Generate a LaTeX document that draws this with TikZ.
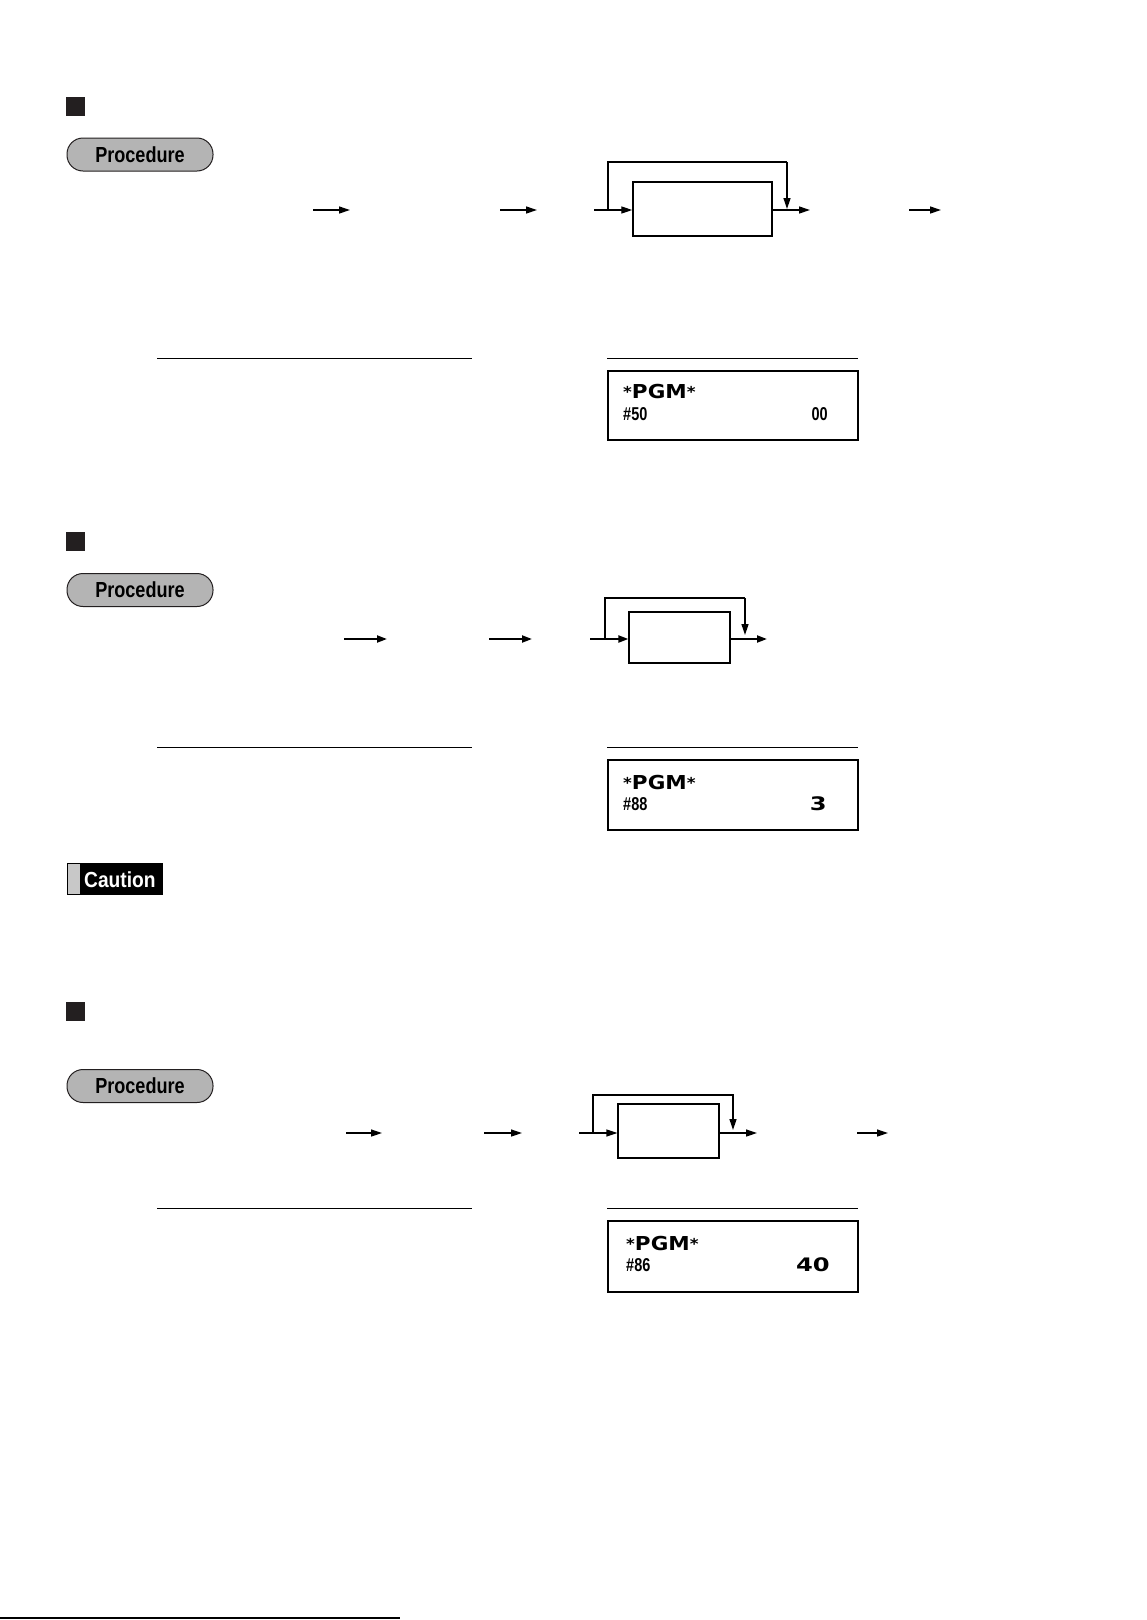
\documentclass[tikz,border=0pt]{standalone}
\usepackage{fontspec}
\usetikzlibrary{arrows.meta}
\newfontfamily\procfont[FakeStretch=0.83,UprightFont={* Bold}]{Liberation Sans}
\newfontfamily\cautfont[FakeStretch=0.88,UprightFont={* Bold}]{Liberation Sans}
\newfontfamily\condfont[FakeStretch=0.78,UprightFont={* Bold}]{Liberation Sans}
\newfontfamily\dispfont[FakeStretch=1.12,UprightFont={* Bold}]{DejaVu Sans}
\newfontfamily\digfont[FakeStretch=1.3,UprightFont={* Bold}]{DejaVu Sans}
\newcommand{\smallast}{\raisebox{0.8pt}{\fontsize{15}{15}\selectfont *}}
\definecolor{ink}{HTML}{231F20}
\definecolor{pillgray}{HTML}{B4B4B4}
\definecolor{bargray}{HTML}{C8C8C8}
\begin{document}
\begin{tikzpicture}[x=1pt,y=-1pt,
  arr/.style={-{Triangle[length=11pt,width=7pt]},line width=1.3pt},
  arrthick/.style={-{Triangle[length=10pt,width=7pt]},line width=2pt},
  loopline/.style={line width=1.3pt},
  keybox/.style={draw,line width=1.4pt,inner sep=0pt},
  sqbox/.style={fill=ink,minimum size=19pt,inner sep=0pt},
  pill/.style={draw=ink,fill=pillgray,line width=1pt,rounded corners=16pt,minimum width=146pt,minimum height=33pt,inner sep=0pt,font=\procfont\fontsize{21.8}{22}\selectfont},
  sepline/.style={line width=1pt},
  dispbox/.style={draw,line width=1.3pt,minimum width=250pt,minimum height=69pt,inner sep=0pt},
  pgm/.style={anchor=base west,inner sep=0pt,font=\dispfont\fontsize{19.2}{19}\selectfont},
  cond/.style={inner sep=0pt,font=\condfont\fontsize{18.6}{19}\selectfont},
  dig/.style={anchor=base east,inner sep=0pt,font=\digfont\fontsize{18.6}{19}\selectfont}]
\useasboundingbox (0,0) rectangle (1147,1620);

% ---------- Section 1 ----------
\node[sqbox] (sq1) at (75.5,106.5) {};
\node[pill] (pr1) at (140,154.5) {Procedure};

\coordinate (s1a1) at (313,210); \coordinate (s1b1) at (350,210);
\coordinate (s1a2) at (500,210); \coordinate (s1b2) at (537,210);
\coordinate (s1in) at (594,210);
\coordinate (s1lp) at (608,210);
\node[keybox,minimum width=139pt,minimum height=54pt] (k1) at (702.5,209) {};
\coordinate (s1tip) at (787,209);
\coordinate (s1out) at (810,210);
\coordinate (s1a5) at (909,210); \coordinate (s1b5) at (941,210);
\draw[arr] (s1a1) -- (s1b1);
\draw[arr] (s1a2) -- (s1b2);
\draw[arr] (s1in) -- (s1in -| k1.west);
\draw[loopline] (s1lp) -- (608,162) -- (787,162);
\draw[arr] (787,162) -- (s1tip);
\draw[arr] (k1.east |- s1out) -- (s1out);
\draw[arr] (s1a5) -- (s1b5);

\coordinate (s1l1) at (157,358.5); \coordinate (s1l2) at (472,358.5);
\coordinate (s1r1) at (607,358.5); \coordinate (s1r2) at (858,358.5);
\draw[sepline] (s1l1) -- (s1l2);
\draw[sepline] (s1r1) -- (s1r2);
\node[dispbox] (d1) at (733,405.5) {};
\node[pgm] (d1pgm) at (623,398.3) {\smallast PGM\smallast};
\node[cond,anchor=base west] (d1num) at (623,420) {\#50};
\node[cond,anchor=base east] (d1val) at (828,420) {00};

% ---------- Section 2 ----------
\node[sqbox] (sq2) at (75.5,541.5) {};
\node[pill] (pr2) at (140,590) {Procedure};

\coordinate (s2a1) at (344,639); \coordinate (s2b1) at (387,639);
\coordinate (s2a2) at (489,639); \coordinate (s2b2) at (532,639);
\coordinate (s2in) at (590,639);
\coordinate (s2lp) at (605,639);
\node[keybox,line width=1.2pt,minimum width=101pt,minimum height=51pt] (k2) at (679.5,637.5) {};
\coordinate (s2tip) at (745,635);
\coordinate (s2out) at (767,639);
\draw[arrthick] (s2a1) -- (s2b1);
\draw[arrthick] (s2a2) -- (s2b2);
\draw[arrthick] (s2in) -- (s2in -| k2.west);
\draw[loopline] (s2lp) -- (605,598) -- (745,598);
\draw[arr] (745,598) -- (s2tip);
\draw[arrthick] (k2.east |- s2out) -- (s2out);

\coordinate (s2l1) at (157,747); \coordinate (s2l2) at (472,747);
\coordinate (s2r1) at (607,747); \coordinate (s2r2) at (858,747);
\draw[sepline] (s2l1) -- (s2l2);
\draw[sepline] (s2r1) -- (s2r2);
\node[dispbox,minimum height=70pt] (d2) at (733,795) {};
\node[pgm] (d2pgm) at (623,789) {\smallast PGM\smallast};
\node[cond,anchor=base west] (d2num) at (623,810) {\#88};
\node[dig] (d2val) at (827,810) {3};

% ---------- Caution ----------
\node[fill=black,minimum width=96pt,minimum height=32pt,inner sep=0pt] (caut) at (115,879) {};
\fill[bargray] (68,864) rectangle (80,894);
\node[anchor=base west,inner sep=0pt,text=white,font=\cautfont\fontsize{21.8}{22}\selectfont] (cauttxt) at (84,887.3) {Caution};

% ---------- Section 3 ----------
\node[sqbox] (sq3) at (75.5,1011.5) {};
\node[pill] (pr3) at (140,1086) {Procedure};

\coordinate (s3a1) at (346,1133); \coordinate (s3b1) at (382,1133);
\coordinate (s3a2) at (484,1133); \coordinate (s3b2) at (522,1133);
\coordinate (s3in) at (579,1133);
\coordinate (s3lp) at (593,1133);
\node[keybox,line width=1.2pt,minimum width=101pt,minimum height=54pt] (k3) at (668.5,1131) {};
\coordinate (s3tip) at (733,1130);
\coordinate (s3out) at (757,1133);
\coordinate (s3a5) at (857,1133); \coordinate (s3b5) at (888,1133);
\draw[arr] (s3a1) -- (s3b1);
\draw[arr] (s3a2) -- (s3b2);
\draw[arr] (s3in) -- (s3in -| k3.west);
\draw[loopline] (s3lp) -- (593,1095);
\draw[line width=2.2pt] (592.4,1095) -- (733.6,1095);
\draw[arr] (733,1095) -- (s3tip);
\draw[arr] (k3.east |- s3out) -- (s3out);
\draw[arr] (s3a5) -- (s3b5);

\coordinate (s3l1) at (157,1208); \coordinate (s3l2) at (472,1208);
\coordinate (s3r1) at (607,1208); \coordinate (s3r2) at (858,1208);
\draw[sepline] (s3l1) -- (s3l2);
\draw[sepline] (s3r1) -- (s3r2);
\node[dispbox,line width=2pt,minimum height=71pt] (d3) at (733,1256.5) {};
\node[pgm] (d3pgm) at (626,1250) {\smallast PGM\smallast};
\node[cond,anchor=base west] (d3num) at (626,1271) {\#86};
\node[dig] (d3val) at (830,1271) {40};

% ---------- bottom rule ----------
\coordinate (bl1) at (0,1618); \coordinate (bl2) at (400,1618);
\draw[line width=1.5pt] (bl1) -- (bl2);
\end{tikzpicture}
\end{document}
